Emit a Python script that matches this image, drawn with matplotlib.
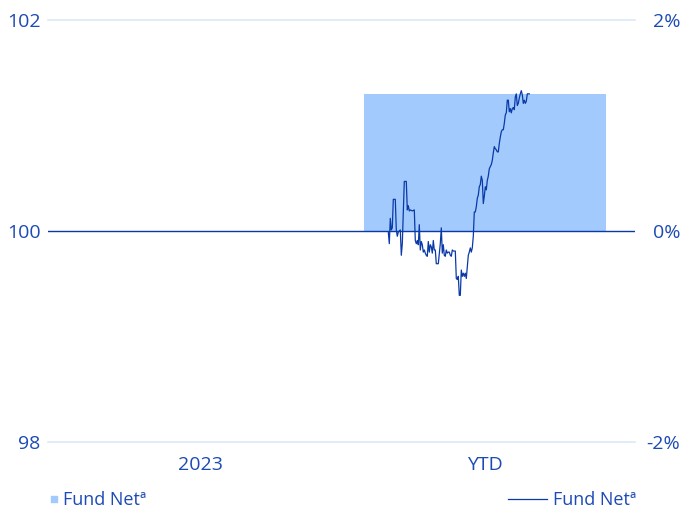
import matplotlib.pyplot as plt
import numpy as np
from matplotlib.lines import Line2D

plt.rcParams['font.family'] = ['Open Sans', 'DejaVu Sans']

categories = ["2023", "YTD"]
bar_values = [0.0, 1.30]  # % return
left_ticks = [98, 100, 102]
right_ticks = [-2, 0, 2]
right_labels = ["-2%", "0%", "2%"]

# trading day number since start of YTD period
ytd_day = [0, 1, 2, 3, 4, 5, 7, 8, 9, 10,
           12, 13, 14, 16, 18, 19, 20, 21, 22, 24,
           26, 27, 28, 29, 30, 31, 32, 33, 34, 35,
           36, 37, 38, 39, 40, 41, 42, 43, 44, 45,
           46, 47, 48, 49, 50, 52, 53, 54, 55, 56,
           57, 58, 59, 60, 61, 62, 63, 64, 65, 67,
           68, 69, 70, 71, 72, 73, 74, 75, 76, 77,
           78, 79, 80, 81, 82, 83, 84, 85, 86, 87,
           88, 89, 90, 91, 92, 93, 94, 95, 96, 97,
           98, 99, 100, 101, 102, 103, 104, 105, 106, 107,
           108, 109, 110, 111, 112, 113, 114, 115, 116, 117,
           118, 119, 120, 121, 122, 123, 124, 125, 126, 127,
           128, 129, 130, 131, 132, 133, 134, 135, 136, 137,
           138, 139, 140, 141]
# cumulative return YTD (%)
ytd_line = [-0.01, -0.12, 0.12, 0.01, 0.03, 0.30, 0.30, 0.01, -0.05, -0.01,
            0.01, -0.23, -0.12, 0.47, 0.47, 0.20, 0.24, 0.19, 0.20, 0.19,
            0.20, -0.09, -0.12, -0.09, -0.13, 0.06, -0.18, -0.10, -0.13, -0.20,
            -0.18, -0.21, -0.23, -0.24, -0.10, -0.20, -0.13, -0.15, -0.21, -0.09,
            -0.18, -0.18, -0.31, -0.31, -0.31, -0.12, 0.03, -0.21, -0.13, -0.23,
            -0.24, -0.18, -0.21, -0.20, -0.20, -0.23, -0.24, -0.18, -0.19, -0.19,
            -0.45, -0.46, -0.43, -0.61, -0.61, -0.37, -0.43, -0.40, -0.43, -0.40,
            -0.45, -0.34, -0.23, -0.20, -0.16, -0.20, -0.16, -0.05, 0.18, 0.18,
            0.23, 0.31, 0.34, 0.42, 0.44, 0.52, 0.48, 0.26, 0.33, 0.42,
            0.39, 0.48, 0.52, 0.59, 0.61, 0.63, 0.67, 0.74, 0.80, 0.78,
            0.77, 0.75, 0.75, 0.83, 0.89, 0.94, 0.96, 0.96, 1.02, 1.10,
            1.12, 1.24, 1.24, 1.13, 1.16, 1.12, 1.16, 1.17, 1.15, 1.27,
            1.30, 1.19, 1.21, 1.26, 1.30, 1.33, 1.29, 1.21, 1.24, 1.21,
            1.23, 1.30, 1.30, 1.30]

text_col = "#1d4ab5"
bar_col = "#a2cafc"
line_col = "#0a3aa8"
grid_col = "#dce9fb"
fs = 14

fig = plt.figure(figsize=(6.84, 5.09), dpi=100)
ax = fig.add_axes([48 / 684, 1 - 442 / 509, 587 / 684, 422 / 509])

# percent axis (right) carries the bars
axr = ax.twinx()
x = np.arange(len(categories))
axr.bar(x, bar_values, width=0.849, color=bar_col, zorder=1)
axr.set_ylim(-2, 2)
axr.set_yticks(right_ticks)
axr.set_yticklabels(right_labels, ha="right")
axr.tick_params(axis="y", length=0, pad=32.4, labelsize=fs, labelcolor=text_col)

ax.set_xlim(-152 / 285, 1 + 150 / 285)
ax.set_ylim(98, 102)
ax.set_yticks(left_ticks)
ax.tick_params(axis="y", length=0, pad=5.5, labelsize=fs, labelcolor=text_col)
ax.set_xticks(x)
ax.set_xticklabels(categories)
ax.tick_params(axis="x", length=0, pad=10, labelsize=fs, labelcolor=text_col)

for a in (ax, axr):
    for s in a.spines.values():
        s.set_visible(False)

for v in (98, 102):
    axr.axhline(v - 100, color=grid_col, lw=1.2, clip_on=False, zorder=0)

# time series on its own x scale (1 px per trading day)
axl = axr.twiny()
axl.set_xlim(-(388.3 - 48), ytd_day[-1] + (635 - 529.3))
axl.set_ylim(-2, 2)
axl.plot(ytd_day, ytd_line, color=line_col, lw=0.9, zorder=3)
axl.axhline(0, color=line_col, lw=1.0, zorder=2)
axl.set_xticks([])
for s in axl.spines.values():
    s.set_visible(False)

h1 = [Line2D([], [], marker="s", ls="none", color=bar_col, markersize=4.5)]
h2 = [Line2D([], [], color=line_col, lw=0.9)]
fig.legend(h1, ["Fund Netª"], loc="center left", bbox_to_anchor=(49 / 684, 0.018),
           frameon=False, fontsize=13, labelcolor=text_col, handletextpad=0.18,
           handlelength=0.6, borderaxespad=0, borderpad=0)
fig.legend(h2, ["Fund Netª"], loc="center right", bbox_to_anchor=(636 / 684, 0.018),
           frameon=False, fontsize=13, labelcolor=text_col, handletextpad=0.33,
           handlelength=2.16, borderaxespad=0, borderpad=0)

fig.savefig("out.png", dpi=100)
